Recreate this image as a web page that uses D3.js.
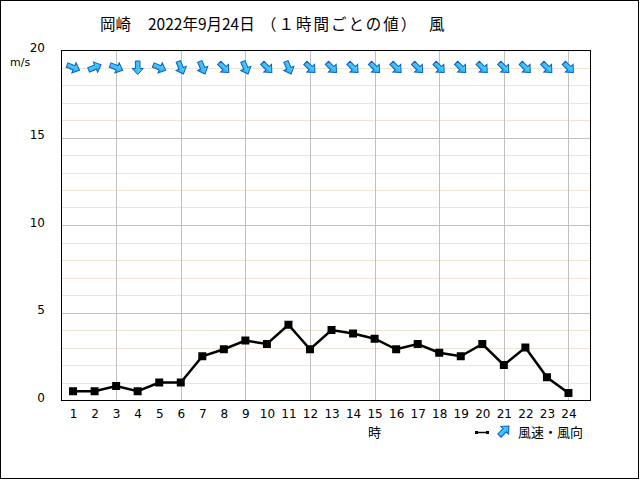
<!DOCTYPE html>
<html><head><meta charset="utf-8">
<script src="https://cdn.jsdelivr.net/npm/d3@7"></script>
<style>body{margin:0;background:#fff}svg{display:block}text{font-family:"Noto Sans CJK JP","DejaVu Sans",sans-serif}</style>
</head><body>
<script>
const hours = d3.range(1, 25);
const speeds = [0.5,0.5,0.8,0.5,1.0,1.0,2.5,2.9,3.4,3.2,4.3,2.9,4.0,3.8,3.5,2.9,3.2,2.7,2.5,3.2,2.0,3.0,1.3,0.4];
const directions = ["WNW","WSW","WNW","N","WNW","NNW","NNW","NW","NNW","NW","NNW","NW","NW","NW","NW","NW","NW","NW","NW","NW","NW","NW","NW","NW"];
const yTicks = [0,5,10,15,20];
const titleParts = ["岡崎", "2022年9月24日", "（１時間ごとの値）", "風"];
const compass = ["N","NNE","NE","ENE","E","ESE","SE","SSE","S","SSW","SW","WSW","W","WNW","NW","NNW"];

const W = 640, H = 480;
const svg = d3.select("body").append("svg").attr("width", W).attr("height", H);
svg.append("rect").attr("x",0.5).attr("y",0.5).attr("width",W-2).attr("height",H-2).attr("fill","#fff").attr("stroke","#000");

const pL = 61, pR = 590, pT = 50, pB = 400;
const x = d3.scaleLinear().domain([0.44, 25]).range([pL, pR]);
const y = d3.scaleLinear().domain([0, 20]).range([pB, pT]);

// minor grid
const g = svg.append("g");
g.selectAll(".minor").data(d3.range(1, 20).filter(v => v % 5 !== 0)).join("line")
  .attr("x1", pL).attr("x2", pR).attr("y1", d => Math.round(y(d))+0.5).attr("y2", d => Math.round(y(d))+0.5)
  .attr("stroke", "#eee6d2").attr("stroke-width", 1);
g.selectAll(".major").data([5,10,15]).join("line")
  .attr("x1", pL).attr("x2", pR).attr("y1", d => Math.round(y(d))+0.5).attr("y2", d => Math.round(y(d))+0.5)
  .attr("stroke", "#c0c0c0").attr("stroke-width", 1);
g.selectAll(".vline").data(hours.filter(h => h % 3 === 0)).join("line")
  .attr("x1", d => Math.round(x(d))+0.5).attr("x2", d => Math.round(x(d))+0.5).attr("y1", pT).attr("y2", pB)
  .attr("stroke", "#c0c0c0").attr("stroke-width", 1);

// frame
svg.append("rect").attr("x", pL+0.5).attr("y", pT+0.5).attr("width", pR-pL).attr("height", pB-pT)
  .attr("fill","none").attr("stroke","#000").attr("stroke-width",1);

// y axis labels
const yAxis = d3.axisLeft(y).tickValues(yTicks).tickSize(0).tickPadding(0).tickFormat(d3.format("d"));
const ya = svg.append("g").attr("transform", `translate(${pL-16},0)`).call(yAxis);
ya.select(".domain").remove();
ya.selectAll("text").attr("font-size", 12).attr("fill","#000").attr("dy","0.1em")
  .style("font-family","'DejaVu Sans',sans-serif");
svg.append("text").attr("x", 10).attr("y", 66).attr("font-size", 11).text("m/s").style("font-family","'DejaVu Sans',sans-serif");

// x axis labels
const xAxis = d3.axisBottom(x).tickValues(hours).tickSize(0).tickPadding(9).tickFormat(d3.format("d"));
const xa = svg.append("g").attr("transform", `translate(0,${pB})`).call(xAxis);
xa.select(".domain").remove();
xa.selectAll("text").attr("font-size", 12).attr("fill","#000").style("font-family","'DejaVu Sans',sans-serif");
svg.append("text").attr("x", x(15)).attr("y", 437).attr("text-anchor","middle").attr("font-size", 13).text("時");

// title
const titleX = [100, 148, 261, 429];
const title = svg.append("text").attr("y", 30).attr("font-size", 15.5);
titleParts.forEach((t, i) => title.append("tspan").attr("x", titleX[i])
  .attr("letter-spacing", i === 2 ? 2 : 0).text(t));

// line
const line = d3.line().x((d,i) => x(hours[i])).y(d => y(d));
svg.append("path").datum(speeds).attr("d", line).attr("fill","none").attr("stroke","#000").attr("stroke-width",2.5);
svg.selectAll(".pt").data(speeds).join("rect")
  .attr("x", (d,i) => x(hours[i]) - 4).attr("y", d => y(d) - 4).attr("width", 8).attr("height", 8).attr("fill", "#000");

// arrows
const defs = svg.append("defs");
const grad = defs.append("linearGradient").attr("id","ag").attr("x1","0").attr("x2","1").attr("y1","0").attr("y2","0");
grad.append("stop").attr("offset","0%").attr("stop-color","#66e0ff");
grad.append("stop").attr("offset","100%").attr("stop-color","#1aa3f0");
const arrowPath = "M0,-7 L5.5,-1 L2.3,-1 L2.3,6.5 L-2.3,6.5 L-2.3,-1 L-5.5,-1 Z"; // pointing up
function drawArrow(sel, cx, cy, angle) {
  sel.append("path").attr("d", arrowPath)
    .attr("transform", `translate(${cx},${cy}) rotate(${angle})`)
    .attr("fill", "url(#ag)").attr("stroke", "#0a5fc0").attr("stroke-width", 1).attr("stroke-linejoin","miter");
}
const arrowsG = svg.append("g");
directions.forEach((dir, i) => {
  const from = compass.indexOf(dir) * 22.5;
  const to = from + 180; // direction wind blows toward
  drawArrow(arrowsG, x(hours[i]), y(19), to);
});

// legend
svg.append("line").attr("x1", 476).attr("x2", 488).attr("y1", 432.5).attr("y2", 432.5).attr("stroke","#000").attr("stroke-width",1.5);
svg.append("rect").attr("x",475).attr("y",431).attr("width",3).attr("height",3).attr("fill","#000");
svg.append("rect").attr("x",486).attr("y",431).attr("width",3).attr("height",3).attr("fill","#000");
drawArrow(svg, 504, 431, 45);
svg.append("text").attr("x", 518).attr("y", 437).attr("font-size", 13).text("風速・風向");
</script>
</body></html>
